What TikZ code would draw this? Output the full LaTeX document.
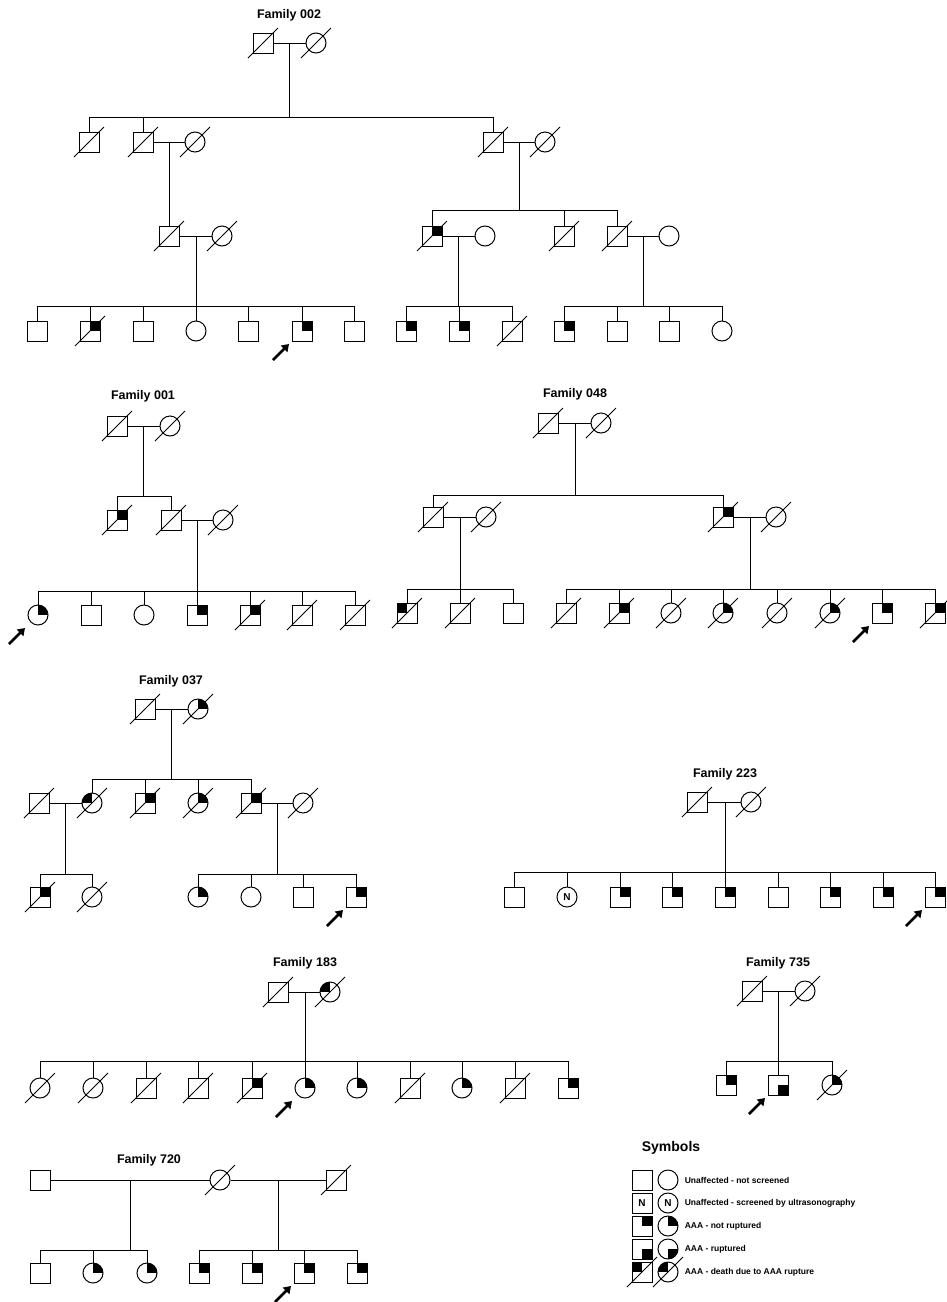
\documentclass[tikz,border=0pt]{standalone}
\usepackage{fontspec}
\setmainfont{Liberation Sans}
\usetikzlibrary{positioning}
\usetikzlibrary{arrows.meta}

\newcommand{\famfont}{\bfseries\fontsize{12.5}{14}\selectfont}
\newcommand{\keyfont}{\bfseries\fontsize{8.5}{10}\selectfont}

\begin{document}
\begin{tikzpicture}[
    x=1pt, y=-1pt,
    line width=1pt,
    male/.style={draw,rectangle,minimum size=20pt,inner sep=0pt},
    female/.style={draw,circle,minimum size=20pt,inner sep=0pt},
    aaa/.style={path picture={\fill (path picture bounding box.center) rectangle (path picture bounding box.north east);}},
    rupt/.style={path picture={\fill (path picture bounding box.center) rectangle (path picture bounding box.south east);}},
    aaadeath/.style={path picture={\fill (path picture bounding box.center) rectangle (path picture bounding box.north west);}},
    dead/.style={append after command={([shift={(-15pt,-15pt)}]\tikzlastnode.center) edge ([shift={(15pt,15pt)}]\tikzlastnode.center)}},
    probarrow/.style={line width=2.6pt,-{Triangle[length=7pt,width=9pt]}},
    proband/.style={append after command={([shift={(-29pt,-29pt)}]\tikzlastnode.center) edge[probarrow] ([shift={(-13pt,-13pt)}]\tikzlastnode.center)}},
    title/.style={font=\famfont}
    ]

    \useasboundingbox (0,0) rectangle (946,1302);

    % Family 002
    \node[title] (t002) at (289,15) {Family 002};
    \node[male,dead] (a1) at (263,43) {};
    \node[female,dead] (a2) at (316,43) {};
    \coordinate (a12) at (289,43);
    \coordinate (sa) at (289,117);
    \draw (a1) -- (a2);
    \draw (a12) -- (sa);

    \node[male,dead] (b1) at (89,142) {};
    \node[male,dead] (b2) at (143,142) {};
    \node[female,dead] (b3) at (195,142) {};
    \node[male,dead] (b4) at (493,142) {};
    \node[female,dead] (b5) at (545,142) {};
    \foreach \n in {b1,b2,b4} \draw (\n.north) |- (sa);
    \draw (b2) -- (b3);
    \draw (b4) -- (b5);
    \coordinate (b23) at (169,142);
    \coordinate (b45) at (519,142);
    \coordinate (sb) at (519,210);
    \draw (b45) -- (sb);

    \node[male,dead] (c1) at (169,236) {};
    \node[female,dead] (c2) at (222,236) {};
    \node[male,dead,aaa] (c3) at (432,236) {};
    \node[female] (c4) at (485,236) {};
    \node[male,dead] (c5) at (564,236) {};
    \node[male,dead] (c6) at (617,236) {};
    \node[female] (c7) at (669,236) {};
    \draw (b23) -- (c1);
    \foreach \n in {c3,c5,c6} \draw (\n.north) |- (sb);
    \draw (c1) -- (c2);
    \draw (c3) -- (c4);
    \draw (c6) -- (c7);
    \coordinate (c12) at (196,236);
    \coordinate (c34) at (458,236);
    \coordinate (c67) at (643,236);
    \coordinate (sc1) at (196,306);
    \coordinate (sc2) at (458,306);
    \coordinate (sc3) at (643,306);
    \draw (c12) -- (sc1);
    \draw (c34) -- (sc2);
    \draw (c67) -- (sc3);

    \node[male] (d1) at (37,331) {};
    \node[male,dead,aaa] (d2) at (90,331) {};
    \node[male] (d3) at (143,331) {};
    \node[female] (d4) at (196,331) {};
    \node[male] (d5) at (248,331) {};
    \node[male,aaa,proband] (d6) at (302,331) {};
    \node[male] (d7) at (354,331) {};
    \node[male,aaa] (d8) at (406,331) {};
    \node[male,aaa] (d9) at (459,331) {};
    \node[male,dead] (d10) at (512,331) {};
    \node[male,aaa] (d11) at (564,331) {};
    \node[male] (d12) at (617,331) {};
    \node[male] (d13) at (669,331) {};
    \node[female] (d14) at (722,331) {};
    \foreach \n in {d1,d2,d3,d4,d5,d6,d7} \draw (\n.north) |- (sc1);
    \foreach \n in {d8,d9,d10} \draw (\n.north) |- (sc2);
    \foreach \n in {d11,d12,d13,d14} \draw (\n.north) |- (sc3);

    % Family 001
    \node[title] (t001) at (143,396) {Family 001};
    \node[male,dead] (e1) at (117,426) {};
    \node[female,dead] (e2) at (170,426) {};
    \coordinate (e12) at (143,426);
    \coordinate (se) at (143,496);
    \draw (e1) -- (e2);
    \draw (e12) -- (se);

    \node[male,dead,aaa] (f1) at (117,520) {};
    \node[male,dead] (f2) at (171,520) {};
    \node[female,dead] (f3) at (223,520) {};
    \foreach \n in {f1,f2} \draw (\n.north) |- (se);
    \draw (f2) -- (f3);
    \coordinate (f23) at (197,520);
    \coordinate (sf) at (197,591);
    \draw (f23) -- (sf);

    \node[female,aaa,proband] (g1) at (38,615) {};
    \node[male] (g2) at (91,615) {};
    \node[female] (g3) at (144,615) {};
    \node[male,aaa] (g4) at (197,615) {};
    \node[male,dead,aaa] (g5) at (250,615) {};
    \node[male,dead] (g6) at (302,615) {};
    \node[male,dead] (g7) at (355,615) {};
    \foreach \n in {g1,g2,g3,g4,g5,g6,g7} \draw (\n.north) |- (sf);

    % Family 048
    \node[title] (t048) at (575,394) {Family 048};
    \node[male,dead] (h1) at (548,423) {};
    \node[female,dead] (h2) at (601,423) {};
    \coordinate (h12) at (575,423);
    \coordinate (sh) at (575,495);
    \draw (h1) -- (h2);
    \draw (h12) -- (sh);

    \node[male,dead] (i1) at (433,517) {};
    \node[female,dead] (i2) at (486,517) {};
    \node[male,dead,aaa] (i3) at (723,517) {};
    \node[female,dead] (i4) at (776,517) {};
    \foreach \n in {i1,i3} \draw (\n.north) |- (sh);
    \draw (i1) -- (i2);
    \draw (i3) -- (i4);
    \coordinate (i12) at (460,517);
    \coordinate (i34) at (750,517);
    \coordinate (si1) at (460,589);
    \coordinate (si2) at (750,589);
    \draw (i12) -- (si1);
    \draw (i34) -- (si2);

    \node[male,dead,aaadeath] (j1) at (407,613) {};
    \node[male,dead] (j2) at (460,613) {};
    \node[male] (j3) at (513,613) {};
    \node[male,dead] (j4) at (566,613) {};
    \node[male,dead,aaa] (j5) at (619,613) {};
    \node[female,dead] (j6) at (671,613) {};
    \node[female,dead,aaa] (j7) at (723,613) {};
    \node[female,dead] (j8) at (777,613) {};
    \node[female,dead,aaa] (j9) at (830,613) {};
    \node[male,aaa,proband] (j10) at (882,613) {};
    \node[male,dead,aaa] (j11) at (935,613) {};
    \foreach \n in {j1,j2,j3} \draw (\n.north) |- (si1);
    \foreach \n in {j4,j5,j6,j7,j8,j9,j10,j11} \draw (\n.north) |- (si2);

    % Family 037
    \node[title] (t037) at (171,681) {Family 037};
    \node[male,dead] (k1) at (145,709) {};
    \node[female,dead,aaa] (k2) at (198,709) {};
    \coordinate (k12) at (171,709);
    \coordinate (sk) at (171,779);
    \draw (k1) -- (k2);
    \draw (k12) -- (sk);

    \node[male,dead] (l1) at (39,803) {};
    \node[female,dead,aaadeath] (l2) at (92,803) {};
    \node[male,dead,aaa] (l3) at (145,803) {};
    \node[female,dead,aaa] (l4) at (198,803) {};
    \node[male,dead,aaa] (l5) at (251,803) {};
    \node[female,dead] (l6) at (303,803) {};
    \foreach \n in {l2,l3,l4,l5} \draw (\n.north) |- (sk);
    \draw (l1) -- (l2);
    \draw (l5) -- (l6);
    \coordinate (l12) at (65,803);
    \coordinate (l56) at (277,803);
    \coordinate (sl1) at (65,874);
    \coordinate (sl2) at (277,874);
    \draw (l12) -- (sl1);
    \draw (l56) -- (sl2);

    \node[male,dead,aaa] (m1) at (40,897) {};
    \node[female,dead] (m2) at (92,897) {};
    \node[female,aaa] (m3) at (198,897) {};
    \node[female] (m4) at (251,897) {};
    \node[male] (m5) at (303,897) {};
    \node[male,aaa,proband] (m6) at (356,897) {};
    \foreach \n in {m1,m2} \draw (\n.north) |- (sl1);
    \foreach \n in {m3,m4,m5,m6} \draw (\n.north) |- (sl2);

    % Family 223
    \node[title] (t223) at (725,774) {Family 223};
    \node[male,dead] (n1) at (697,802) {};
    \node[female,dead] (n2) at (751,802) {};
    \coordinate (n12) at (725,802);
    \coordinate (sn) at (725,872);
    \draw (n1) -- (n2);
    \draw (n12) -- (sn);

    \node[male] (o1) at (514,897) {};
    \node[female,font=\bfseries] (o2) at (567,897) {N};
    \node[male,aaa] (o3) at (620,897) {};
    \node[male,aaa] (o4) at (672,897) {};
    \node[male,aaa] (o5) at (725,897) {};
    \node[male] (o6) at (778,897) {};
    \node[male,aaa] (o7) at (830,897) {};
    \node[male,aaa] (o8) at (883,897) {};
    \node[male,aaa,proband] (o9) at (935,897) {};
    \foreach \n in {o1,o2,o3,o4,o5,o6,o7,o8,o9} \draw (\n.north) |- (sn);

    % Family 183
    \node[title] (t183) at (305,963) {Family 183};
    \node[male,dead] (p1) at (278,992) {};
    \node[female,dead,aaadeath] (p2) at (330,992) {};
    \coordinate (p12) at (305,992);
    \coordinate (sp) at (305,1061);
    \draw (p1) -- (p2);
    \draw (p12) -- (sp);

    \node[female,dead] (q1) at (40,1088) {};
    \node[female,dead] (q2) at (93,1088) {};
    \node[male,dead] (q3) at (146,1088) {};
    \node[male,dead] (q4) at (198,1088) {};
    \node[male,dead,aaa] (q5) at (252,1088) {};
    \node[female,aaa,proband] (q6) at (305,1088) {};
    \node[female,aaa] (q7) at (357,1088) {};
    \node[male,dead] (q8) at (410,1088) {};
    \node[female,aaa] (q9) at (462,1088) {};
    \node[male,dead] (q10) at (515,1088) {};
    \node[male,aaa] (q11) at (568,1088) {};
    \foreach \n in {q1,q2,q3,q4,q5,q6,q7,q8,q9,q10,q11} \draw (\n.north) |- (sp);

    % Family 735
    \node[title] (t735) at (778,963) {Family 735};
    \node[male,dead] (r1) at (752,991) {};
    \node[female,dead] (r2) at (805,991) {};
    \coordinate (r12) at (778,991);
    \coordinate (sr) at (778,1061);
    \draw (r1) -- (r2);
    \draw (r12) -- (sr);

    \node[male,aaa] (s1) at (726,1085) {};
    \node[male,rupt,proband] (s2) at (778,1085) {};
    \node[female,dead,aaa] (s3) at (832,1085) {};
    \foreach \n in {s1,s2,s3} \draw (\n.north) |- (sr);

    % Family 720
    \node[title] (t720) at (149,1160) {Family 720};
    \node[male] (u1) at (40,1180) {};
    \node[female,dead] (u2) at (220,1180) {};
    \node[male,dead] (u3) at (336,1180) {};
    \draw (u1) -- (u2);
    \draw (u2) -- (u3);
    \coordinate (u12) at (130,1180);
    \coordinate (u23) at (278,1180);
    \coordinate (su1) at (130,1250);
    \coordinate (su2) at (278,1250);
    \draw (u12) -- (su1);
    \draw (u23) -- (su2);

    \node[male] (v1) at (40,1273) {};
    \node[female,aaa] (v2) at (93,1273) {};
    \node[female,aaa] (v3) at (147,1273) {};
    \node[male,aaa] (v4) at (199,1273) {};
    \node[male,aaa] (v5) at (252,1273) {};
    \node[male,aaa,proband] (v6) at (304,1273) {};
    \node[male,aaa] (v7) at (357,1273) {};
    \foreach \n in {v1,v2,v3} \draw (\n.north) |- (su1);
    \foreach \n in {v4,v5,v6,v7} \draw (\n.north) |- (su2);

    % Symbols
    \node[font=\bfseries\fontsize{14}{16}\selectfont,anchor=west] (key) at (638,1148) {Symbols};
    \node[male] (k1m) at (642,1180) {};
    \node[female] (k1f) at (668,1180) {};
    \node[male,font=\bfseries] (k2m) at (642,1203) {N};
    \node[female,font=\bfseries] (k2f) at (668,1203) {N};
    \node[male,aaa] (k3m) at (642,1226) {};
    \node[female,aaa] (k3f) at (668,1226) {};
    \node[male,rupt] (k4m) at (642,1249) {};
    \node[female,rupt] (k4f) at (668,1249) {};
    \node[male,dead,aaadeath] (k5m) at (642,1272) {};
    \node[female,dead,aaadeath] (k5f) at (668,1272) {};
    \node[font=\keyfont,anchor=west] (k1t) at (681,1180) {Unaffected - not screened};
    \node[font=\keyfont,anchor=west] (k2t) at (681,1203) {Unaffected - screened by ultrasonography};
    \node[font=\keyfont,anchor=west] (k3t) at (681,1226) {AAA - not ruptured};
    \node[font=\keyfont,anchor=west] (k4t) at (681,1249) {AAA - ruptured};
    \node[font=\keyfont,anchor=west] (k5t) at (681,1272) {AAA - death due to AAA rupture};

  \end{tikzpicture}
\end{document}
